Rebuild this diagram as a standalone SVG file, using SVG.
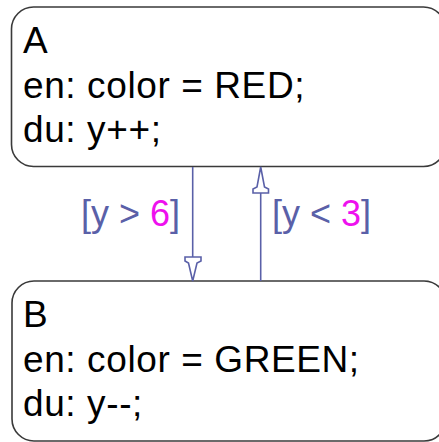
<svg xmlns="http://www.w3.org/2000/svg" width="439" height="442" viewBox="0 0 439 442">
<style>
.state{fill:#ffffff;stroke:#3a3a3a;stroke-width:1.6}
.st{font-family:"Liberation Sans",Arial,sans-serif;font-size:37px;letter-spacing:0.6px;fill:#000000}
.lbl{font-family:"Liberation Sans",Arial,sans-serif;font-size:36px;fill:#5a60a8}
.num{fill:#ee11ee}
.edge{stroke:#5a60a8;stroke-width:1.6;fill:none}
.head{stroke:#5a60a8;stroke-width:1.6;fill:#ffffff;stroke-linejoin:miter}
</style>
<rect width="439" height="442" fill="#ffffff"/>
<g id="A">
<rect class="state" x="11.5" y="7" width="434" height="159.5" rx="22" ry="22"/>
<text class="st" x="23" y="53">A</text>
<text class="st" x="23" y="97.5">en: color = RED;</text>
<text class="st" x="23" y="142">du: y++;</text>
</g>
<g id="B">
<rect class="state" x="12" y="281" width="434" height="160" rx="22" ry="22"/>
<text class="st" x="23" y="327">B</text>
<text class="st" x="23" y="371.5">en: color = GREEN;</text>
<text class="st" x="23" y="416">du: y--;</text>
</g>
<g id="connectors">
<line class="edge" x1="192.7" y1="167" x2="192.7" y2="257"/>
<polygon class="head" points="185,257 201,257 201,261 197,263 192.7,281 188.5,263 185,261"/>
<line class="edge" x1="260.7" y1="281" x2="260.7" y2="193"/>
<polygon class="head" points="253,193 268.5,193 268.5,189 264.5,187 260.7,167 257,187 253,189"/>
<text class="lbl" x="81" y="226">[y &gt; <tspan class="num">6</tspan>]</text>
<text class="lbl" x="272" y="226">[y &lt; <tspan class="num">3</tspan>]</text>
</g>
</svg>
